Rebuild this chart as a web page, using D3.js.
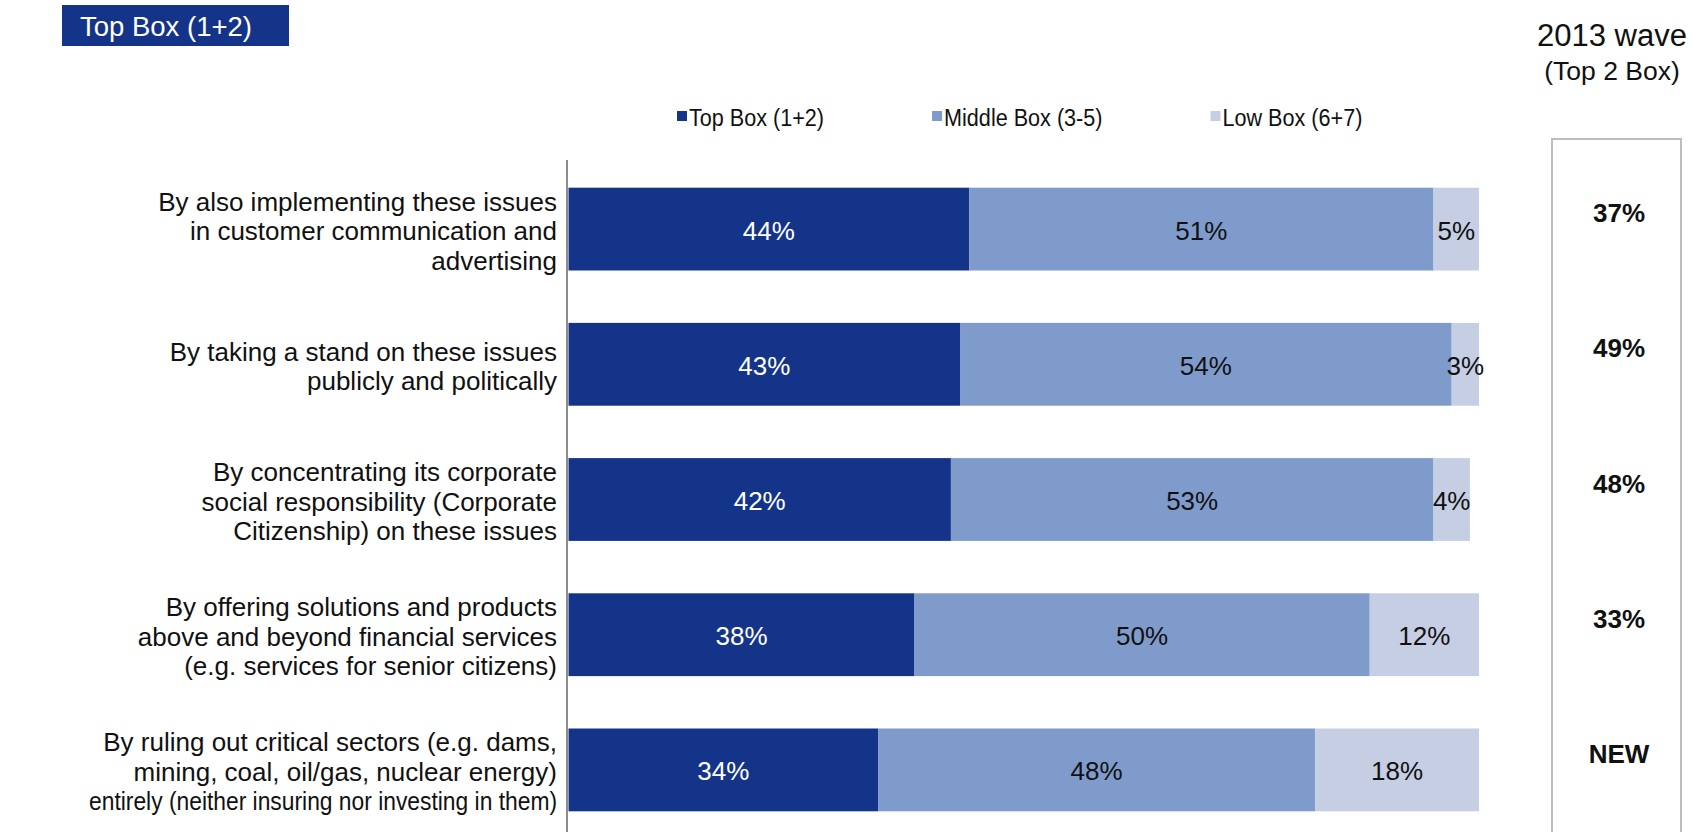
<!DOCTYPE html>
<html>
<head>
<meta charset="utf-8">
<script src="https://cdn.jsdelivr.net/npm/d3@7/dist/d3.min.js"></script>
<style>
  body { margin: 0; background: #ffffff; }
  svg { display: block; font-family: Arial, "Liberation Sans", sans-serif; }
</style>
</head>
<body>
<svg id="chart" width="1693" height="832"></svg>
<script>
// Statements, one array of wrapped lines per row
const categories = [
  ["By also implementing these issues", "in customer communication and", "advertising"],
  ["By taking a stand on these issues", "publicly and politically"],
  ["By concentrating its corporate", "social responsibility (Corporate", "Citizenship) on these issues"],
  ["By offering solutions and products", "above and beyond financial services", "(e.g. services for senior citizens)"],
  ["By ruling out critical sectors (e.g. dams,", "mining, coal, oil/gas, nuclear energy)", "entirely (neither insuring nor investing in them)"]
];
const seriesNames = ["Top Box (1+2)", "Middle Box (3-5)", "Low Box (6+7)"];
const topBox = [44, 43, 42, 38, 34];
const middleBox = [51, 54, 53, 50, 48];
const lowBox = [5, 3, 4, 12, 18];
const wave2013 = ["37%", "49%", "48%", "33%", "NEW"];
const panelTitle = ["2013 wave", "(Top 2 Box)"];
const badgeText = "Top Box (1+2)";

const colors = ["#14348a", "#7f9bcc", "#c5cee3"];
const labelColors = ["#ffffff", "#111111", "#111111"];

const svg = d3.select("#chart");
const rows = d3.range(categories.length);

const x = d3.scaleLinear().domain([0, 100]).range([568.5, 1479]);
const y = d3.scaleBand().domain(rows).range([162, 837])
  .paddingInner(0.3875).paddingOuter(0.19);

// stacked data
const table = rows.map(i => ({ i, top: topBox[i], mid: middleBox[i], low: lowBox[i] }));
const stack = d3.stack().keys(["top", "mid", "low"]);
const layers = stack(table);

// badge, top left
svg.append("rect").attr("x", 62).attr("y", 5).attr("width", 227).attr("height", 41)
  .attr("fill", "#14348a");
svg.append("text").attr("x", 80).attr("y", 36).attr("fill", "#ffffff")
  .attr("font-size", 27.5).text(badgeText);

// bars
const g = svg.append("g");
layers.forEach((layer, k) => {
  g.append("g").selectAll("rect").data(layer).join("rect")
    .attr("x", d => x(d[0]))
    .attr("y", d => y(d.data.i))
    .attr("width", d => x(d[1]) - x(d[0]))
    .attr("height", y.bandwidth())
    .attr("fill", colors[k]);
  g.append("g").selectAll("text").data(layer).join("text")
    .attr("x", d => (x(d[0]) + x(d[1])) / 2)
    .attr("y", d => y(d.data.i) + y.bandwidth() / 2 + 10.5)
    .attr("text-anchor", "middle")
    .attr("font-size", 26)
    .attr("fill", labelColors[k])
    .text(d => (d[1] - d[0]) + "%");
});

// vertical category axis line
const axis = d3.axisLeft(y).tickSize(0).tickSizeOuter(0).tickFormat("");
const axG = svg.append("g").attr("transform", "translate(567,0)").call(axis);
axG.select(".domain").attr("stroke", "#8c8c8c").attr("stroke-width", 2)
  .attr("d", "M0,160V832");

// category labels, right aligned against the axis
const maxLabelWidth = 468;
rows.forEach(i => {
  const lines = categories[i];
  const cy = y(i) + y.bandwidth() / 2;
  const t = svg.append("text").attr("text-anchor", "end").attr("font-size", 26).attr("fill", "#111");
  lines.forEach((ln, j) => {
    const off = (j - (lines.length - 1) / 2) * 29.5;
    const ts = t.append("tspan").attr("x", 557).attr("y", cy + 11 + off).text(ln);
    const w = ts.node().getComputedTextLength();
    if (w > maxLabelWidth) ts.attr("textLength", maxLabelWidth).attr("lengthAdjust", "spacingAndGlyphs");
  });
});

// legend
const legendGap = 108;
const leg = svg.append("g").attr("transform", "translate(677,111)");
let lx = 0;
seriesNames.forEach((name, k) => {
  const item = leg.append("g").attr("transform", `translate(${lx},0)`);
  item.append("rect").attr("width", 10).attr("height", 10).attr("fill", colors[k]);
  const t = item.append("text").attr("x", 0).attr("y", 0)
    .attr("transform", "translate(12,15) scale(0.9,1)")
    .attr("font-size", 24).attr("fill", "#111").text(name);
  lx += 12 + t.node().getComputedTextLength() * 0.9 + legendGap;
});

// 2013 wave panel
svg.append("text").attr("x", 1612).attr("y", 46).attr("text-anchor", "middle")
  .attr("font-size", 31).attr("fill", "#111").text(panelTitle[0]);
svg.append("text").attr("x", 1612).attr("y", 80).attr("text-anchor", "middle")
  .attr("font-size", 26.5).attr("fill", "#111").text(panelTitle[1]);
svg.append("path").attr("d", "M1552,832V139H1681V832")
  .attr("fill", "none").attr("stroke", "#bdbdbd").attr("stroke-width", 2);
svg.append("g").selectAll("text").data(rows).join("text")
  .attr("x", 1619)
  .attr("y", i => y(i) + y.bandwidth() / 2 - 7)
  .attr("text-anchor", "middle")
  .attr("font-size", 26).attr("font-weight", "bold").attr("fill", "#111")
  .text(i => wave2013[i]);
</script>
</body>
</html>
